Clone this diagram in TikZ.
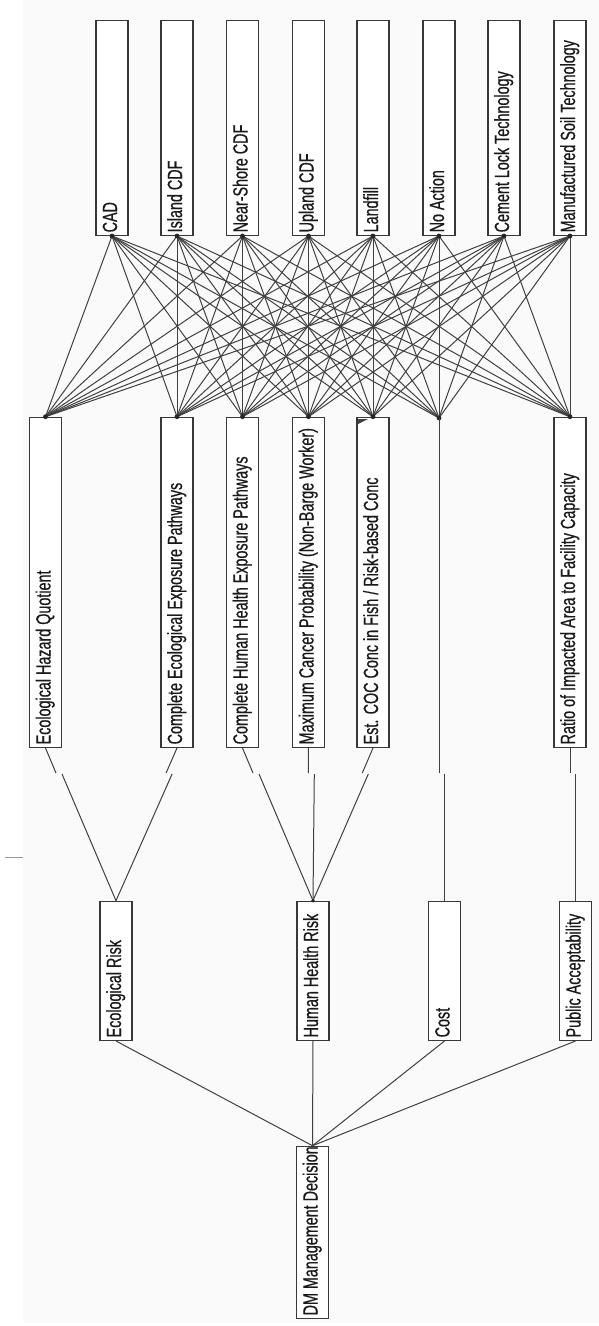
\documentclass[tikz,border=0pt]{standalone}
\usepackage{fontspec}
\setmainfont[FakeStretch=0.7,FakeBold=0.6]{Liberation Sans}
\newcommand\bxt[2]{\makebox[#1][l]{\rule[-5pt]{0pt}{20pt}#2}}
\begin{document}
\begin{tikzpicture}[x=1pt,y=-1pt,
  box/.style={draw=black!78, line width=1.3pt, fill=white, rotate=90, anchor=west,
    minimum height=32pt, inner xsep=3pt, inner ysep=0pt,
    font=\fontsize{20.5}{22}\selectfont, text=black!90},
  link/.style={draw=black!75, line width=1pt},
  dot/.style={fill=black!85}]
\useasboundingbox (0,0) rectangle (599,1326);
\fill[white] (0,0) rectangle (599,1326);
\fill[black!2] (23,0) rectangle (599,1323);

% alternatives
\node[box] (cad)  at (112,236)   {\bxt{209pt}{CAD}};
\node[box] (icdf) at (177,236)   {\bxt{209pt}{Island CDF}};
\node[box] (ns)   at (242.5,236) {\bxt{209pt}{Near-Shore CDF}};
\node[box] (up)   at (308.5,236) {\bxt{209pt}{Upland CDF}};
\node[box] (lf)   at (373,236)   {\bxt{209pt}{Landfill}};
\node[box] (na)   at (439,236)   {\bxt{209pt}{No Action}};
\node[box] (cl)   at (504,236)   {\bxt{209pt}{Cement Lock Technology}};
\node[box] (ms)   at (570,236)   {\bxt{209pt}{Manufactured Soil Technology}};

% criteria
\node[box] (ehq)   at (45.5,748)  {\bxt{324pt}{Ecological Hazard Quotient}};
\node[box] (ceep)  at (177,748)   {\bxt{324pt}{Complete Ecological Exposure Pathways}};
\node[box] (chhep) at (242.5,748) {\bxt{324pt}{Complete Human Health Exposure Pathways}};
\node[box] (mcp)   at (308.5,748) {\bxt{324pt}{Maximum Cancer Probability (Non-Barge Worker)}};
\node[box] (coc)   at (373,748)   {\bxt{324pt}{Est. COC Conc in Fish / Risk-based Conc}};
\coordinate (costpt) at (439,418);
\node[box] (ratio) at (570,748)   {\bxt{324pt}{Ratio of Impacted Area to Facility Capacity}};

% objectives
\node[box] (er)   at (116,1041)   {\bxt{133pt}{Ecological Risk}};
\node[box] (hhr)  at (313,1041)   {\bxt{133pt}{Human Health Risk}};
\node[box] (cost) at (444.5,1041) {\bxt{133pt}{Cost}};
\node[box] (pa)   at (575.5,1041) {\bxt{133pt}{Public Acceptability}};

% goal
\node[box] (dm) at (312.5,1319) {\bxt{166pt}{DM Management Decision}};

% alternatives to criteria
\foreach \a in {cad,icdf,ns,up,lf,na,cl,ms}{
  \foreach \c in {ehq.east,ceep.east,chhep.east,mcp.east,coc.east,costpt,ratio.east}{
    \draw[link] (\a.west) -- (\c);
  }
}
\foreach \a in {cad,icdf,ns,up,lf,na,cl,ms}{ \fill[dot] (\a.west) circle (2.4pt); }
\foreach \c in {ehq.east,ceep.east,chhep.east,mcp.east,coc.east,costpt,ratio.east}{ \fill[dot] (\c) circle (2.4pt); }

% criteria to objectives (with the small offset seen in the picture)
\coordinate (j1a) at (56,773);    \coordinate (j1b) at (62,774);
\coordinate (j2a) at (166.1,773); \coordinate (j2b) at (172.1,774);
\coordinate (j3a) at (253,773);   \coordinate (j3b) at (259,774);
\coordinate (j4a) at (308.3,773); \coordinate (j4b) at (314.3,774);
\coordinate (j5a) at (362.3,773); \coordinate (j5b) at (368.3,774);
\coordinate (j6a) at (439,773);   \coordinate (j6b) at (444.5,774);
\coordinate (j7a) at (570,773);   \coordinate (j7b) at (575.5,774);
\draw[link] (ehq.west) -- (j1a);   \draw[link] (j1b) -- (er.east);
\draw[link] (ceep.west) -- (j2a);  \draw[link] (j2b) -- (er.east);
\draw[link] (chhep.west) -- (j3a); \draw[link] (j3b) -- (hhr.east);
\draw[link] (mcp.west) -- (j4a);   \draw[link] (j4b) -- (hhr.east);
\draw[link] (coc.west) -- (j5a);   \draw[link] (j5b) -- (hhr.east);
\draw[link] (costpt) -- (j6a);     \draw[link] (j6b) -- (cost.east);
\draw[link] (ratio.west) -- (j7a); \draw[link] (j7b) -- (pa.east);
\fill[dot] (hhr.east) circle (1.8pt);

% objectives to goal
\foreach \o in {er,hhr,cost,pa}{ \draw[link] (dm.east) -- (\o.west); }

% small marks
\fill[black!75] (358,419) -- (368,419) -- (358,424) -- cycle;
\coordinate (m1) at (5,857);
\coordinate (m2) at (23,857);
\draw[black!40, line width=1pt] (m1) -- (m2);
\end{tikzpicture}
\end{document}
